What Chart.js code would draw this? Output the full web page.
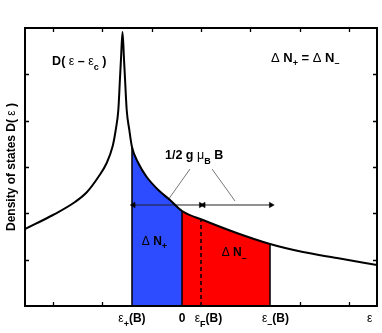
<!DOCTYPE html>
<html>
<head>
<meta charset="utf-8">
<title>Density of states, Pauli paramagnetism</title>
<script src="https://cdn.jsdelivr.net/npm/chart.js@4.4.1/dist/chart.umd.min.js"></script>
<style>
    html, body { margin: 0; padding: 0; background: #fff; }
</style>
</head>
<body>
<canvas id="dos" width="382" height="333"></canvas>
<script>

// 
// Energies in tick units, Fermi level at zero.
// 
var ePlus = -1.40, eZero = -0.385, eFermi = 0, eMinus = 1.40;

// 
// Density of states D(e - ec).
// 
var curveX = [-3.57, -3.002, -2.556, -2.312, -2.083, -1.913, -1.791, -1.730, -1.677, -1.643, -1.623,
              -1.592,
              -1.562, -1.542, -1.507, -1.454, -1.40, -1.272, -1.101, -0.866, -0.629, -0.385,
              0.04, 0.724, 1.40, 2.069, 2.759, 3.57];
var curveY = [1.662, 1.964, 2.245, 2.461, 2.784, 3.087, 3.453, 3.799, 4.231, 4.92, 5.33,
              5.914,
              5.33, 4.92, 4.231, 3.799, 3.43, 3.087, 2.784, 2.504, 2.288, 2.05,
              1.856, 1.576, 1.338, 1.166, 1.036, 0.885];

// 
// Axis ticks (no numbers shown) and the energy labels under the axis.
// 
var xTicks = [-3, -2, -1, 0, 1, 2, 3];
var yTicks = [1, 2, 3, 4, 5];
var xLabels = [
    [['\u03b5', 'n'], ['+', 's'], ['(B)', 'b']],
    [['0', 'b']],
    [['\u03b5', 'n'], ['F', 's'], ['(B)', 'b']],
    [['\u03b5', 'n'], ['\u2013', 's'], ['(B)', 'b']],
    [['\u03b5', 'n']]
];
var xLabelAt = [ePlus, eZero, 0.15, 1.51, 3.42];

var yTitle = [['Density of states D( ', 'b'], ['\u03b5', 'n'], [' )', 'b']];

// 
// Text annotations inside the axes.
// 
var notes = [
    {parts: [['D( ', 'b'], ['\u03b5', 'n'], [' \u2013 ', 'b'], ['\u03b5', 'n'], ['c', 's'], [' )', 'b']], x: -3.02, y: 5.27, size: 12.5},
    {parts: [['\u0394', 'n'], [' N', 'b'], ['+', 's'], [' = ', 'b'], ['\u0394', 'n'], [' N', 'b'], ['\u2013', 's']], x: 1.42, y: 5.35, size: 13},
    {parts: [['1/2 g ', 'b'], ['\u03bc', 'n'], ['B', 's'], [' B', 'b']], x: -0.73, y: 3.24, size: 12.5},
    {parts: [['\u0394', 'n'], [' N', 'b'], ['+', 's']], x: -1.20, y: 1.39, size: 12},
    {parts: [['\u0394', 'n'], [' N', 'b'], ['\u2013', 's']], x: 0.42, y: 1.14, size: 12}
];

function pts(xs, ys) {
    return xs.map(function (x, i) {
        return {x: x, y: ys[i]};
    });
}

var curve = pts(curveX, curveY);

function between(a, b) {
    return curve.filter(function (p) {
        return p.x >= a - 1e-9 && p.x <= b + 1e-9;
    });
}

function valueAt(x) {
    return curve.filter(function (p) {
        return Math.abs(p.x - x) < 1e-9;
    })[0].y;
}

function vline(x, top) {
    return [{x: x, y: 0}, {x: x, y: top}];
}

// 
// Font helpers for the mixed bold / greek / subscript labels.
// 
function fontFor(style, size) {
    var s = style === 's' ? Math.round(size * 0.72) : size;
    var w = style === 'n' ? '' : 'bold ';
    return w + s + 'px "Liberation Sans", Arial, sans-serif';
}

function drawRich(ctx, parts, x, y, size, align) {
    var w = 0;
    parts.forEach(function (p) {
        ctx.font = fontFor(p[1], size);
        w += ctx.measureText(p[0]).width;
    });
    var cx = align === 'center' ? x - w / 2 : x;
    ctx.textAlign = 'left';
    ctx.textBaseline = 'middle';
    parts.forEach(function (p) {
        ctx.font = fontFor(p[1], size);
        ctx.fillText(p[0], cx, y + (p[1] === 's' ? size * 0.42 : 0));
        cx += ctx.measureText(p[0]).width;
    });
}

// 
// Matlab style box with inward ticks, plus all the text.
// 
var matlabAxes = {
    id: 'matlabAxes',
    beforeDatasetsDraw: function (chart) {
        var ctx = chart.ctx, a = chart.chartArea;
        var xs = chart.scales.x, ys = chart.scales.y;
        ctx.save();
        ctx.strokeStyle = '#000';
        ctx.lineWidth = 1.3;
        ctx.beginPath();
        xTicks.forEach(function (v) {
            var px = Math.round(xs.getPixelForValue(v)) + 0.5;
            ctx.moveTo(px, a.bottom);
            ctx.lineTo(px, a.bottom - 4);
            ctx.moveTo(px, a.top);
            ctx.lineTo(px, a.top + 4);
        });
        yTicks.forEach(function (v) {
            var py = Math.round(ys.getPixelForValue(v)) + 0.5;
            ctx.moveTo(a.left, py);
            ctx.lineTo(a.left + 4, py);
            ctx.moveTo(a.right, py);
            ctx.lineTo(a.right - 4, py);
        });
        ctx.stroke();
        ctx.restore();
    },
    afterDatasetsDraw: function (chart) {
        var ctx = chart.ctx, a = chart.chartArea;
        var xs = chart.scales.x, ys = chart.scales.y;
        ctx.save();
        ctx.strokeStyle = '#000';
        ctx.lineWidth = 2;
        ctx.strokeRect(a.left, a.top, a.right - a.left, a.bottom - a.top);

        ctx.fillStyle = '#000';
        notes.forEach(function (n) {
            drawRich(ctx, n.parts, xs.getPixelForValue(n.x), ys.getPixelForValue(n.y), n.size, 'left');
        });
        xLabels.forEach(function (parts, i) {
            drawRich(ctx, parts, xs.getPixelForValue(xLabelAt[i]), a.bottom + 13, 12, 'center');
        });

        ctx.translate(12, (a.top + a.bottom) / 2);
        ctx.rotate(-Math.PI / 2);
        drawRich(ctx, yTitle, 0, 0, 12, 'center');
        ctx.restore();
    }
};

var arrowY = 2.18;

var chart = new Chart(document.getElementById('dos'), {
    type: 'scatter',
    data: {
        datasets: [
            {
                // the density of states
                data: curve,
                showLine: true,
                borderColor: '#000',
                borderWidth: 2,
                borderJoinStyle: 'round',
                pointRadius: 0,
                cubicInterpolationMode: 'monotone',
                order: 0
            },
            {
                data: vline(ePlus, valueAt(ePlus)),
                showLine: true, borderColor: '#000', borderWidth: 1.5, pointRadius: 0, order: 1
            },
            {
                data: vline(eZero, valueAt(eZero)),
                showLine: true, borderColor: '#000', borderWidth: 1.5, pointRadius: 0, order: 1
            },
            {
                data: vline(eMinus, valueAt(eMinus)),
                showLine: true, borderColor: '#000', borderWidth: 1.5, pointRadius: 0, order: 1
            },
            {
                // Fermi level
                data: vline(eFermi, 1.88),
                showLine: true, borderColor: '#000', borderWidth: 1.5, borderDash: [4, 3],
                pointRadius: 0, order: 1
            },
            {
                // 1/2 g muB B arrows
                data: [{x: -1.37, y: arrowY}, {x: 0.0, y: arrowY}],
                showLine: true, borderColor: '#222', borderWidth: 1,
                pointStyle: 'triangle', pointRadius: 3.2, pointRotation: [-90, 90],
                pointBackgroundColor: '#000', pointBorderColor: '#000', pointBorderWidth: 0.5,
                order: 1
            },
            {
                data: [{x: 0.05, y: arrowY}, {x: 1.42, y: arrowY}],
                showLine: true, borderColor: '#222', borderWidth: 1,
                pointStyle: 'triangle', pointRadius: 3.2, pointRotation: [-90, 90],
                pointBackgroundColor: '#000', pointBorderColor: '#000', pointBorderWidth: 0.5,
                order: 1
            },
            {
                data: [{x: -0.223, y: 2.957}, {x: -0.669, y: 2.288}],
                showLine: true, borderColor: '#555', borderWidth: 0.8, pointRadius: 0, order: 1
            },
            {
                data: [{x: 0.223, y: 2.957}, {x: 0.69, y: 2.266}],
                showLine: true, borderColor: '#555', borderWidth: 0.8, pointRadius: 0, order: 1
            },
            {
                // Delta N+ (spin up)
                data: between(ePlus, eZero),
                showLine: true,
                borderWidth: 0,
                pointRadius: 0,
                cubicInterpolationMode: 'monotone',
                backgroundColor: '#2d4cff',
                fill: 'origin',
                order: 2
            },
            {
                // Delta N- (spin down)
                data: between(eZero, eMinus),
                showLine: true,
                borderWidth: 0,
                pointRadius: 0,
                cubicInterpolationMode: 'monotone',
                backgroundColor: '#ff0000',
                fill: 'origin',
                order: 2
            }
        ]
    },
    options: {
        responsive: false,
        animation: false,
        layout: {padding: {left: 25, top: 28, right: 5, bottom: 27}},
        plugins: {legend: {display: false}, tooltip: {enabled: false}},
        scales: {
            x: {type: 'linear', display: false, min: -3.57, max: 3.57},
            y: {type: 'linear', display: false, min: 0, max: 6}
        }
    },
    plugins: [matlabAxes]
});
</script>
</body>
</html>
